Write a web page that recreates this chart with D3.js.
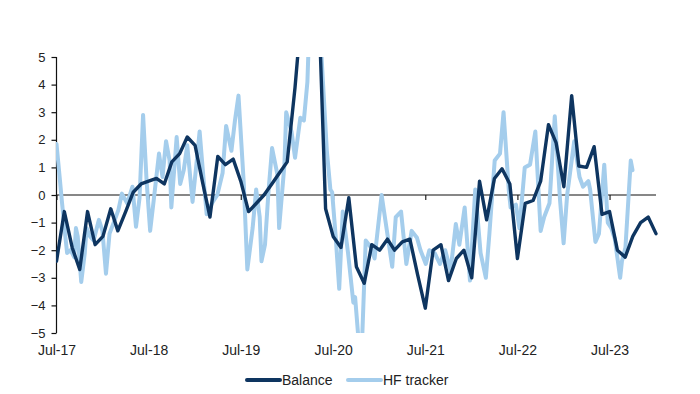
<!DOCTYPE html>
<html><head><meta charset="utf-8">
<script src="https://cdn.jsdelivr.net/npm/d3@7"></script>
<style>
body{margin:0;background:#fff;}
svg{display:block;font-family:"Liberation Sans",Arial,sans-serif;}
</style></head>
<body><svg id="c" width="700" height="394"></svg>
<script>
// ---- data ----
const balanceStart = "2017-06"; // monthly, values plotted at month end
const balanceValues = [
 -2.4,-0.6,-1.9,-2.7,-0.6,-1.8,-1.5,-0.5,-1.3,-0.6,0.1,0.4,
 0.5,0.6,0.4,1.2,1.5,2.1,1.8,0.4,-0.8,1.4,1.1,1.3,
 0.5,-0.6,-0.3,0.0,0.4,0.8,1.2,3.9,7.0,9.0,8.0,-0.5,
 -1.5,-1.9,-0.1,-2.6,-3.2,-1.8,-2.0,-1.6,-2.0,-1.7,-1.6,-2.9,
 -4.1,-2.0,-1.8,-3.1,-2.3,-2.0,-3.0,0.5,-0.9,0.6,0.95,0.4,
 -2.3,-0.3,-0.2,0.5,2.55,1.9,0.3,3.6,1.05,1.0,1.75,-0.7,
 -0.6,-2.0,-2.25,-1.5,-1.0,-0.8,-1.4
];
const hfStart = "2017-07-01"; // weekly tracker, weeks since start
const hfWeeks = [0,2,3,5,6,8,10,11,12,14,16,17,19,21,24,26,28,30,33,35,37,40,43,45,47,49,51,53,55,58,60,62,64,65,68,70,72,74,77,79,81,83,85,88,91,94,96,99,101,103,106,108,111,113,115,116,118,120,122,125,126,129,130,133,135,138,140,142,143,146,148,150,153,155,156,158,160,162,165,168,169,171,173,175,178,180,184,190,192,195,198,201,204,206,209,211,214,217,220,223,226,228,231,234,237,240,243,245,248,251,253,256,257,260,262,265,268,271,274,276,279,282,285,287,289,293,296,298,301,302,305,307,310,312,314,316,319,320,322,325,326];
const hfValues = [1.85,0.5,-0.2,-1.5,-2.1,-2.0,-2.25,-1.2,-1.5,-3.15,-2.1,-1.2,-1.5,-1.65,-0.9,-1.3,-2.85,-1.4,-0.9,-0.55,0.05,-0.3,0.3,-1.15,-0.1,2.9,0.5,-1.3,-0.2,1.5,0.65,1.95,1.25,-0.45,2.1,0.4,0.9,1.8,-0.25,1.0,2.3,0.75,-0.7,-0.3,0.0,0.8,2.5,1.6,2.7,3.6,0.4,-2.7,-1.2,0.2,-0.8,-2.4,-1.8,0.15,1.7,0.75,-1.2,1.1,3.0,2.3,1.35,2.8,2.7,4.1,6.0,7.0,7.0,5.0,1.6,0.2,0.1,-1.5,-3.4,-0.6,-2.1,-3.9,-3.7,-5.3,-5.2,-1.65,-1.9,-2.3,0.0,-2.6,-0.8,-0.6,-2.5,-1.3,-1.55,-2.0,-2.5,-2.0,-2.1,-2.5,-2.0,-2.75,-1.05,-1.8,-0.45,-3.1,0.2,-2.1,-3.0,-1.4,1.25,1.5,3.0,0.15,-0.45,-0.35,-1.2,1.0,1.1,2.3,-1.3,-0.8,-0.3,2.85,-0.2,-1.75,0.0,1.95,0.65,0.3,0.5,0.2,-1.7,-1.4,1.1,-1.0,-1.2,-1.6,-3.0,-2.4,-1.9,1.25,0.9];
const yTicks = [5,4,3,2,1,0,-1,-2,-3,-4,-5];
const xTickDates = ["2017-07-01","2018-07-01","2019-07-01","2020-07-01","2021-07-01","2022-07-01","2023-07-01"];
const seriesNames = ["Balance","HF tracker"];
const colors = {balance:"#0e3560", hf:"#a4cdec"};

// ---- build ----
const parseM = d3.timeParse("%Y-%m");
const parseD = d3.timeParse("%Y-%m-%d");
const bStart = parseM(balanceStart);
const balance = balanceValues.map((v,i)=>({date:d3.timeMonth.offset(bStart,i+1), v}));
const hStart = parseD(hfStart);
const hf = hfWeeks.map((w,i)=>({date:d3.timeDay.offset(hStart,w*7), v:hfValues[i]}));

const svg = d3.select("#c");
const x = d3.scaleTime().domain([parseD("2017-07-01"), parseD("2024-01-01")]).range([56.5, 656]);
const y = d3.scaleLinear().domain([-5,5]).range([333,57]);

svg.append("defs").append("clipPath").attr("id","clip")
  .append("rect").attr("x",56).attr("y",57).attr("width",605).attr("height",276);

// y axis
const ya = svg.append("g").attr("transform","translate(56.5,0)")
  .call(d3.axisLeft(y).tickValues(yTicks).tickSize(5).tickPadding(6).tickFormat(d3.format("d")));
ya.selectAll("path,line").attr("stroke","#111").attr("stroke-width",1.2);
ya.select(".domain").attr("d","M0,57V333");
ya.selectAll("text").attr("font-size",13).attr("fill","#222").attr("font-family","Liberation Sans, Arial, sans-serif");

// zero line with ticks
const za = svg.append("g").attr("transform",`translate(0,${y(0)})`)
  .call(d3.axisBottom(x).tickValues(xTickDates.map(parseD)).tickSize(5).tickFormat(""));
za.selectAll("path,line").attr("stroke","#111").attr("stroke-width",1.1);
za.select(".domain").attr("d",`M${x.range()[0]},0H${x.range()[1]}`);

// bottom labels
const xa = svg.append("g").attr("transform","translate(0,333)")
  .call(d3.axisBottom(x).tickValues(xTickDates.map(parseD)).tickSize(0).tickPadding(12).tickFormat(d3.timeFormat("%b-%y")));
xa.select(".domain").remove();
xa.selectAll("text").attr("font-size",14).attr("fill","#222").attr("font-family","Liberation Sans, Arial, sans-serif");

// lines
const line = d3.line().x(d=>x(d.date)).y(d=>y(d.v));
const g = svg.append("g").attr("clip-path","url(#clip)");
g.append("path").datum(hf).attr("d",line).attr("fill","none")
  .attr("stroke",colors.hf).attr("stroke-width",4).attr("stroke-linejoin","round").attr("stroke-linecap","round");
g.append("path").datum(balance).attr("d",line).attr("fill","none")
  .attr("stroke",colors.balance).attr("stroke-width",3.4).attr("stroke-linejoin","round").attr("stroke-linecap","round");

// legend
const leg = svg.append("g");
const items = [{name:seriesNames[0],c:colors.balance,w:4,x0:247},{name:seriesNames[1],c:colors.hf,w:4,x0:348}];
items.forEach(it=>{
  leg.append("line").attr("x1",it.x0).attr("x2",it.x0+33).attr("y1",380).attr("y2",380)
    .attr("stroke",it.c).attr("stroke-width",it.w).attr("stroke-linecap","round");
  leg.append("text").attr("x",it.x0+35).attr("y",385).attr("font-size",14).attr("fill","#222").text(it.name);
});
</script></body></html>
